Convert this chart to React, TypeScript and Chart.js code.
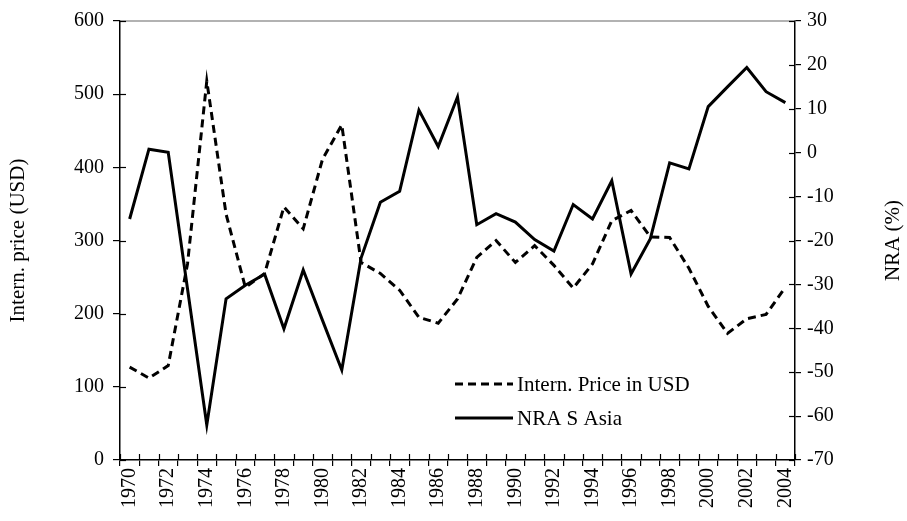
import React, { useEffect, useRef } from "react";
import { Chart, registerables } from "chart.js";

Chart.register(...registerables);

const years = [
  "1970","1971","1972","1973","1974","1975","1976","1977","1978","1979",
  "1980","1981","1982","1983","1984","1985","1986","1987","1988","1989",
  "1990","1991","1992","1993","1994","1995","1996","1997","1998","1999",
  "2000","2001","2002","2003","2004",
];

const priceUSD = [
  127, 112, 129, 268, 518, 336, 236, 255, 346, 316,
  411, 458, 270, 255, 232, 195, 187, 220, 277, 300,
  270, 293, 266, 235, 268, 327, 341, 305, 304, 262,
  210, 173, 193, 199, 236,
];

const nraSAsia = [
  -15.1, 0.8, 0.1, -31, -62, -33.3, -30.2, -27.7, -40.1, -26.7,
  -38.2, -49.5, -24, -11.3, -8.8, 9.7, 1.4, 12.7, -16.4, -13.9,
  -15.8, -19.8, -22.4, -11.8, -15.1, -6.4, -27.6, -19.6, -2.3, -3.7,
  10.5, 15, 19.4, 13.9, 11.4,
];

const seriesLabels = ["Intern. Price in USD", "NRA S Asia"];
const leftTitle = "Intern. price (USD)";
const rightTitle = "NRA (%)";

const FONT = "'Liberation Serif', 'Times New Roman', serif";

const innerTicks = {
  id: "innerTicks",
  afterDraw(chart: any) {
    const { ctx, chartArea, scales } = chart;
    ctx.save();
    const len = 6;
    // top border (gray)
    ctx.beginPath();
    ctx.strokeStyle = "#999";
    ctx.lineWidth = 1.5;
    ctx.moveTo(chartArea.left, chartArea.top);
    ctx.lineTo(chartArea.right, chartArea.top);
    ctx.stroke();
    ctx.strokeStyle = "#000";
    ctx.lineWidth = 1.2;
    const y = scales.y;
    y.ticks.forEach((t: any) => {
      const p = Math.round(y.getPixelForValue(t.value)) + 0.5;
      ctx.beginPath();
      ctx.moveTo(chartArea.left, p);
      ctx.lineTo(chartArea.left + len, p);
      ctx.stroke();
    });
    const y1 = scales.y1;
    y1.ticks.forEach((t: any) => {
      const p = Math.round(y1.getPixelForValue(t.value)) + 0.5;
      ctx.beginPath();
      ctx.moveTo(chartArea.right, p);
      ctx.lineTo(chartArea.right - len, p);
      ctx.stroke();
    });
    const x = scales.x;
    const n = years.length;
    const step = x.getPixelForValue(1) - x.getPixelForValue(0);
    for (let i = 0; i <= n; i++) {
      const p = Math.round(x.getPixelForValue(0) - step / 2 + i * step) + 0.5;
      ctx.beginPath();
      ctx.moveTo(p, chartArea.bottom);
      ctx.lineTo(p, chartArea.bottom - len);
      ctx.stroke();
    }
    // right axis title, reading bottom-to-top
    ctx.save();
    ctx.translate(893, (chartArea.top + chartArea.bottom) / 2);
    ctx.rotate(-Math.PI / 2);
    ctx.fillStyle = "#000";
    ctx.font = `21px ${FONT}`;
    ctx.textAlign = "center";
    ctx.textBaseline = "middle";
    ctx.fillText(rightTitle, 0, 0);
    ctx.restore();
    ctx.restore();
  },
};

const customLegend = {
  id: "customLegend",
  afterDraw(chart: any) {
    const { ctx } = chart;
    const x0 = 455;
    const x1 = 513;
    const rows = [384, 418];
    ctx.save();
    chart.data.datasets.forEach((ds: any, i: number) => {
      const yy = rows[i];
      ctx.beginPath();
      ctx.strokeStyle = ds.borderColor;
      ctx.lineWidth = ds.borderWidth;
      ctx.setLineDash(ds.borderDash || []);
      ctx.moveTo(x0, yy);
      ctx.lineTo(x1, yy);
      ctx.stroke();
      ctx.setLineDash([]);
      ctx.fillStyle = "#000";
      ctx.font = `21px ${FONT}`;
      ctx.textBaseline = "middle";
      ctx.textAlign = "left";
      ctx.fillText(ds.label, x1 + 4, yy + 1);
    });
    ctx.restore();
  },
};

export default function App() {
  const ref = useRef<HTMLCanvasElement | null>(null);
  useEffect(() => {
    document.body.style.margin = "0";
    const canvas = ref.current;
    if (!canvas) return;
    const tickFont = { family: FONT, size: 20 };
    const chart = new Chart(canvas, {
      type: "line",
      data: {
        labels: years,
        datasets: [
          {
            label: seriesLabels[0],
            data: priceUSD,
            yAxisID: "y",
            borderColor: "#000",
            borderWidth: 3,
            borderDash: [8, 5],
            pointRadius: 0,
            fill: false,
            tension: 0,
          },
          {
            label: seriesLabels[1],
            data: nraSAsia,
            yAxisID: "y1",
            borderColor: "#000",
            borderWidth: 3,
            pointRadius: 0,
            fill: false,
            tension: 0,
          },
        ],
      },
      options: {
        responsive: false,
        animation: false,
        layout: { padding: { top: 20, right: 0, left: 0, bottom: 0 } },
        plugins: { legend: { display: false }, tooltip: { enabled: false } },
        scales: {
          x: {
            type: "category",
            offset: true,
            grid: {
              offset: true,
              drawOnChartArea: false,
              drawTicks: true,
              tickLength: 6,
              color: "#000",
              lineWidth: 1.2,
            },
            border: { display: true, color: "#000", width: 1.5 },
            ticks: {
              autoSkip: false,
              minRotation: 90,
              maxRotation: 90,
              color: "#000",
              font: tickFont,
              padding: 2,
              callback: (_v: any, i: number) => (i % 2 === 0 ? years[i] : ""),
            },
            afterFit: (s: any) => {
              s.height = 61;
            },
          },
          y: {
            position: "left",
            min: 0,
            max: 600,
            ticks: { stepSize: 100, color: "#000", font: tickFont, padding: 9 },
            grid: {
              drawOnChartArea: false,
              drawTicks: true,
              tickLength: 7,
              color: "#000",
              lineWidth: 1.2,
            },
            border: { display: true, color: "#000", width: 1.5 },
            title: {
              display: true,
              text: leftTitle,
              color: "#000",
              font: { family: FONT, size: 21 },
              padding: { top: 6, bottom: 0 },
            },
            afterFit: (s: any) => {
              s.width = 120;
            },
          },
          y1: {
            position: "right",
            min: -70,
            max: 30,
            ticks: { stepSize: 10, color: "#000", font: tickFont, padding: 6 },
            grid: {
              drawOnChartArea: false,
              drawTicks: true,
              tickLength: 6,
              color: "#000",
              lineWidth: 1.2,
            },
            border: { display: true, color: "#000", width: 1.5 },
            afterFit: (s: any) => {
              s.width = 112;
            },
          },
        },
      },
      plugins: [innerTicks, customLegend],
    });
    return () => chart.destroy();
  }, []);
  return (
    <div style={{ width: 907, height: 521, background: "#fff" }}>
      <canvas ref={ref} width={907} height={521} />
    </div>
  );
}
